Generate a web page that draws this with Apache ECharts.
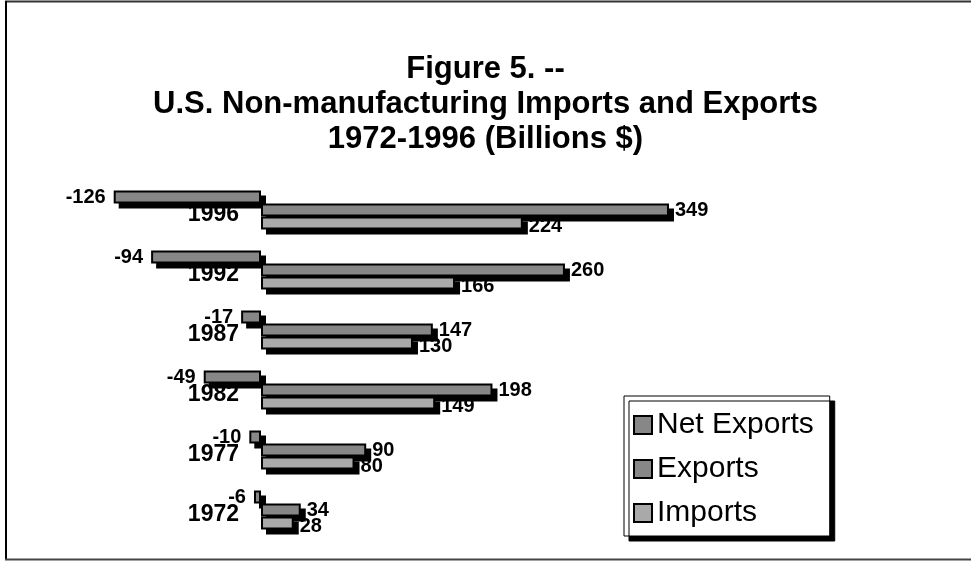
<!DOCTYPE html>
<html>
<head>
<meta charset="utf-8">
<script src="https://cdn.jsdelivr.net/npm/echarts@6/dist/echarts.min.js"></script>
<style>
  html, body { margin: 0; padding: 0; background: #fff; }
  #main { width: 971px; height: 561px; }
</style>
</head>
<body>
<div id="main"></div>
<script>
// years, bottom to top
var years = ['1972', '1977', '1982', '1987', '1992', '1996'];
var netExports = [-6, -10, -49, -17, -94, -126];
var exportsVal = [34, 90, 198, 147, 260, 349];
var importsVal = [28, 80, 149, 130, 166, 224];
var seriesNames = ['Net Exports', 'Exports', 'Imports'];

var chart = echarts.init(document.getElementById('main'));

var FONT = 'Liberation Sans, Arial, sans-serif';
var labelFont = { fontFamily: FONT, fontWeight: 'bold', fontSize: 20, color: '#000' };

// grid 0 = the bars, grid 1 = same grid moved 5px right/down for the black drop shadow
var gridBase = { left: 27.2, right: 125.5, top: 180, bottom: 21 };
var xMin = -200, xMax = 500;
// move the year axis from the grid edge to the zero line
var zeroShift = (0 - xMin) / (xMax - xMin) * (971 - gridBase.left - gridBase.right);

function xAx(gi) {
    return {
        gridIndex: gi, type: 'value', min: xMin, max: xMax,
        axisLine: { show: false }, axisTick: { show: false },
        axisLabel: { show: false }, splitLine: { show: false }
    };
}
function yAx(gi, showLabel) {
    return {
        gridIndex: gi, type: 'category', data: years,
        offset: -zeroShift,
        axisLine: { show: false, onZero: false },
        axisTick: { show: false },
        axisLabel: {
            show: showLabel,
            margin: 22,
            verticalAlign: 'top',
            lineHeight: 10,
            fontFamily: FONT,
            fontWeight: 'bold',
            fontSize: 23,
            color: '#000'
        }
    };
}
function bar(name, data, color, label, z) {
    return {
        name: name, type: 'bar', data: data,
        xAxisIndex: 0, yAxisIndex: 0,
        barWidth: 13, barGap: '0%', z: z,
        itemStyle: { color: color, borderColor: '#000', borderWidth: 2 },
        label: label
    };
}
function shadow(name, data) {
    return {
        name: name + ' shadow', type: 'bar', data: data,
        xAxisIndex: 1, yAxisIndex: 1,
        barWidth: 13, barGap: '0%', z: 1, silent: true,
        itemStyle: { color: '#000', borderColor: '#000', borderWidth: 2 }
    };
}

var option = {
    animation: false,
    backgroundColor: '#fff',
    title: {
        text: 'Figure 5. --\nU.S. Non-manufacturing Imports and Exports\n1972-1996 (Billions $)',
        left: 'center',
        top: 47,
        textStyle: {
            fontFamily: FONT,
            fontWeight: 'bold',
            fontSize: 31,
            lineHeight: 35,
            color: '#000'
        }
    },
    legend: {
        data: seriesNames,
        orient: 'vertical',
        left: 624,
        top: 396,
        padding: [14, 16, 8, 9],
        itemGap: 14,
        itemWidth: 18,
        itemHeight: 18,
        itemTextGap: 8,
        icon: 'rect',
        backgroundColor: '#fff',
        borderColor: '#000',
        borderWidth: 1,
        shadowColor: '#000',
        shadowBlur: 0,
        shadowOffsetX: 5,
        shadowOffsetY: 5,
        textStyle: { fontFamily: FONT, fontSize: 30, lineHeight: 30, color: '#000' }
    },
    grid: [
        Object.assign({ outerBoundsMode: 'none', containLabel: false }, gridBase),
        { outerBoundsMode: 'none', containLabel: false,
          left: gridBase.left + 5, right: gridBase.right - 5, top: gridBase.top + 5, bottom: gridBase.bottom - 5 }
    ],
    xAxis: [xAx(0), xAx(1)],
    yAxis: [yAx(0, true), yAx(1, false)],
    series: [
        shadow('Net Exports', netExports),
        shadow('Exports', exportsVal),
        shadow('Imports', importsVal),
        bar('Net Exports', netExports, '#878787',
            Object.assign({ show: true, position: 'left', distance: 8 }, labelFont), 2),
        bar('Exports', exportsVal, '#878787',
            Object.assign({ show: true, position: 'right', distance: 6 }, labelFont), 3),
        bar('Imports', importsVal, '#a9a9a9',
            Object.assign({ show: true, position: 'right', distance: 6, offset: [0, 3] }, labelFont), 4)
    ],
    // page frame (top, left, bottom)
    graphic: [
        { type: 'line', shape: { x1: 5, y1: 1.5, x2: 971, y2: 1.5 }, style: { stroke: '#333', lineWidth: 2 } },
        { type: 'line', shape: { x1: 6, y1: 1, x2: 6, y2: 560 }, style: { stroke: '#000', lineWidth: 2 } },
        { type: 'line', shape: { x1: 5, y1: 559.5, x2: 971, y2: 559.5 }, style: { stroke: '#444', lineWidth: 2 } }
    ]
};

chart.setOption(option);
</script>
</body>
</html>
